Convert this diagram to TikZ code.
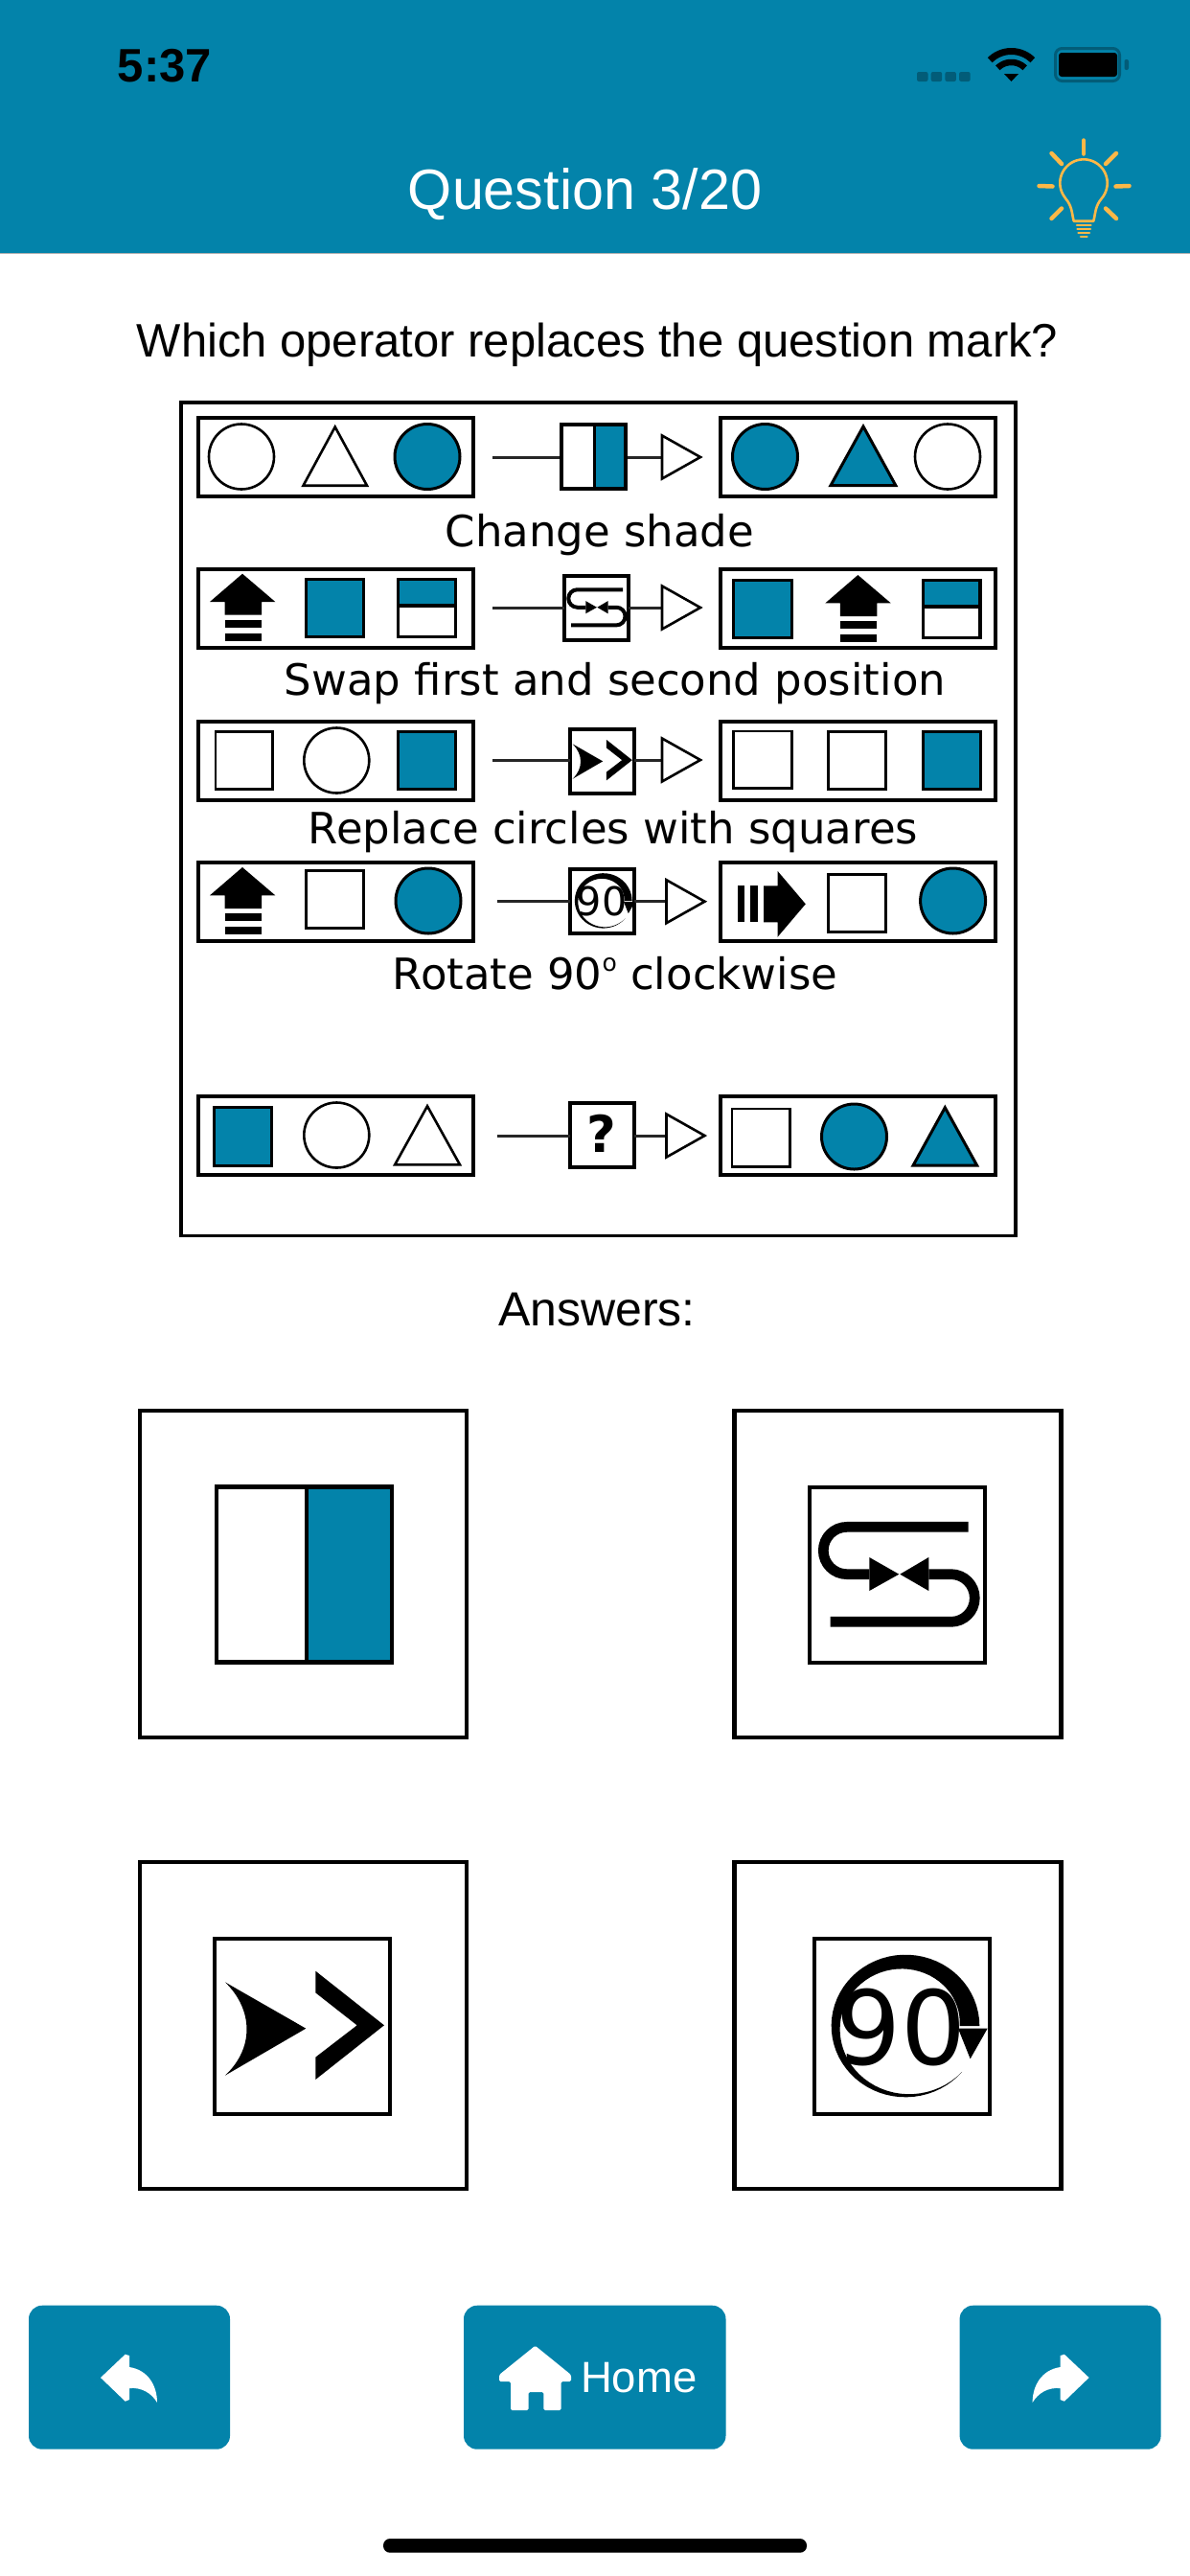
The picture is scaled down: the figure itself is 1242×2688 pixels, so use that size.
\documentclass[tikz,border=0pt]{standalone}
\usepackage{fontspec}
\setmainfont{Liberation Sans}
\newfontfamily\dv{DejaVu Sans}
\usetikzlibrary{calc}
\definecolor{appteal}{RGB}{3,131,170}
\definecolor{darkteal}{RGB}{2,92,120}
\definecolor{bulbcol}{RGB}{253,184,71}
\tikzset{
  shp/.style={draw=black,line width=2.6pt,fill=white,line join=miter},
  shf/.style={draw=black,line width=3pt,fill=appteal,line join=miter},
  rowbox/.style={draw=black,line width=4pt,fill=white},
  opbox/.style={draw=black,line width=4pt,fill=white,inner sep=0pt,outer sep=0pt,minimum width=67pt,minimum height=67pt},
  ansframe/.style={draw=black,line width=4.3pt,fill=white,inner sep=0pt,outer sep=0pt,minimum width=341pt,minimum height=341pt},
  ansbox/.style={draw=black,line width=4.3pt,fill=white,inner sep=0pt,outer sep=0pt,minimum width=183pt,minimum height=183pt},
  conn/.style={draw=black!85,line width=3pt},
  tip/.style={draw=black,line width=2.6pt,fill=white,line join=miter},
  lab/.style={font=\dv\fontsize{45}{50}\selectfont,anchor=base,inner sep=0pt,text=black},
  txt/.style={anchor=base,inner sep=0pt},
  btn/.style={fill=appteal,rounded corners=14pt},
  ray/.style={draw=bulbcol,line width=4.5pt,line cap=round},
  bar/.style={draw=bulbcol,line width=2.6pt,line cap=round},
}
\newcommand\cS[2]{\draw[shp] (#1,#2) circle[radius=34pt];}
\newcommand\cF[2]{\draw[shf] (#1,#2) circle[radius=34pt];}
\newcommand\sS[4]{\draw[shp] ($(#1,#2)+(1.3,1.3)$) rectangle ($(#3,#4)-(1.3,1.3)$);}
\newcommand\sF[4]{\draw[shf] ($(#1,#2)+(1.5,1.5)$) rectangle ($(#3,#4)-(1.5,1.5)$);}
\newcommand\triS[5]{\draw[shp] ($(#1,#4)+(2.5,-1.3)$) -- ($(#3,#4)+(-2.5,-1.3)$) -- ($(#5,#2)+(0,2.5)$) -- cycle;}
\newcommand\triF[5]{\draw[shf] ($(#1,#4)+(3,-1.5)$) -- ($(#3,#4)+(-3,-1.5)$) -- ($(#5,#2)+(0,3)$) -- cycle;}
\newcommand\halfS[5]{%
  \fill[white] (#1,#2) rectangle (#3,#4);
  \fill[appteal] (#1,#2) rectangle (#3,#5);
  \draw[black,line width=3.4pt] ($(#1,#2)+(1.7,1.7)$) rectangle ($(#3,#4)-(1.7,1.7)$);
  \draw[black,line width=3.4pt] (#1,#5) -- (#3,#5);}
\newcommand\upArr[2]{\begin{scope}[shift={(#1,#2)}]
  \fill[black] (34,0) -- (68.3,29.3) -- (54,29.3) -- (54,43) -- (15.5,43) -- (15.5,29.3) -- (0,29.3) -- cycle;
  \fill[black] (15.5,48.3) rectangle (54,56.3);
  \fill[black] (15.5,62) rectangle (54,70.3);
\end{scope}}
\newcommand\rightArr[2]{\begin{scope}[shift={(#1,#2)}]
  \fill[black] (70.8,0) -- (41.5,-34.5) -- (41.5,-19) -- (27,-19) -- (27,19) -- (41.5,19) -- (41.5,34.5) -- cycle;
  \fill[black] (0,-19) rectangle (7,19);
  \fill[black] (13,-19) rectangle (21.4,19);
\end{scope}}
\newcommand\swapGlyph[4]{\begin{scope}[shift={(#1,#2)},x=#3pt,y=-#3pt]
  \draw[black,line width=#4pt] (502,130) -- (122,130) .. controls (81,130) and (48,163) .. (48,204) .. controls (48,245) and (81,278) .. (122,278) -- (192,278);
  \draw[black,line width=#4pt] (378,278) -- (448,278) .. controls (489,278) and (522,311.5) .. (522,352.5) .. controls (522,393.5) and (489,427) .. (448,427) -- (70,427);
  \fill[black] (192,225) -- (285,278) -- (192,330) -- cycle;
  \fill[black] (378,225) -- (288,278) -- (378,330) -- cycle;
\end{scope}}
\newcommand\chevGlyph[3]{\begin{scope}[shift={(#1,#2)},x=#3pt,y=-#3pt]
  \fill[black] (291,287) -- (38,142) .. controls (128,230) and (128,350) .. (38,434) -- cycle;
  \fill[black] (321,107) -- (536,277) -- (321,447) -- (321,377) -- (451,277) -- (321,175) -- cycle;
\end{scope}}
\newcommand\nineGlyph[5]{\begin{scope}[shift={(#1,#2)},x=#3pt,y=-#3pt]
  \fill[black] plot[domain=0:320,samples=60] ({291+232*cos(\x)},{279-223*sin(\x)}) -- plot[domain=320:0,samples=60] ({291+(232-62*(1-\x/320))*cos(\x)},{279-(223-62*(1-\x/320))*sin(\x)}) -- cycle;
  \fill[black] (456,287) -- (548,287) -- (494,382) -- cycle;
  \node[inner sep=0pt,scale=#4] (#5) at (278,284) {\dv\fontsize{107}{110}\selectfont 90};
\end{scope}}
\newcommand\replyIcon{%
  \fill[white] (105,2481) -- (130.7,2456.7) -- (135,2458) -- (135,2470) .. controls (155,2473) and (164,2490) .. (164,2507) .. controls (158,2497) and (148,2491) .. (135,2492) -- (135,2504) -- (130.7,2505.7) -- cycle;}
\newcommand\wifiArc[2]{\draw[black,line width=#2pt] plot[domain=45:135,samples=20] ({1055.5+#1*cos(\x)},{85-#1*sin(\x)});}
\begin{document}
\begin{tikzpicture}[x=1pt,y=-1pt]
\useasboundingbox (0,0) rectangle (1242,2688);
\fill[white] (0,0) rectangle (1242,2688);
% header
\fill[appteal] (0,0) rectangle (1242,264);
\fill[black!30] (0,263.5) rectangle (1242,265);
\node[txt,text=black,font=\bfseries\fontsize{49}{50}\selectfont] (clock) at (172,85) {5:37};
\node[txt,text=white,font=\fontsize{59.3}{62}\selectfont] (title) at (610.5,218) {Question 3/20};
% status icons
\foreach \i in {0,1,2,3}{\fill[darkteal,rounded corners=2pt] (957+\i*14.7,75) rectangle ++(11.5,10);}
\wifiArc{31.5}{7}
\wifiArc{20}{6.5}
\fill[black] (1055.5,85) -- (1048,77) -- (1063,77) -- cycle;
\draw[darkteal,line width=3pt,rounded corners=7pt] (1101.5,50.5) rectangle (1168.5,84.5);
\fill[black,rounded corners=3pt] (1105,55) rectangle (1166,80);
\fill[darkteal,rounded corners=2pt] (1173.5,62) rectangle (1178,73);
% bulb
\draw[bulbcol,line width=2.6pt,line join=round] (1120.7,230.7) .. controls (1118.5,222) and (1119,215) .. (1112,207) -- plot[domain=220:-40,samples=40] ({1131+24.7*cos(\x)},{191-24.7*sin(\x)}) .. controls (1143,215) and (1143.5,222) .. (1141.3,230.7) -- cycle;
\draw[ray] (1131,146.5) -- (1131,160.5);
\draw[ray] (1097.5,160) -- (1108,171);
\draw[ray] (1165,160) -- (1154,171);
\draw[ray] (1084.5,194) -- (1098.5,194.5);
\draw[ray] (1164.5,194.5) -- (1178.5,194);
\draw[ray] (1097.5,228) -- (1108,217.5);
\draw[ray] (1165,228) -- (1154,217.5);
\draw[bar] (1124,235) -- (1138.5,235);
\draw[bar] (1124.5,239) -- (1138,239);
\draw[bar] (1125.5,242.8) -- (1137,242.8);
\draw[bar] (1128,246.8) -- (1134.5,246.8);
% question
\node[txt,font=\fontsize{49}{52}\selectfont] (question) at (623.5,372.7) {Which operator replaces the question mark?};
% puzzle frame
\draw[black,line width=3.8pt] (189,420) rectangle (1060,1289.5);
% row boxes
\foreach \t in {436,594,752.5,899.5,1144}{
  \draw[rowbox] (206.7,\t) rectangle (493.9,\t+82);
  \draw[rowbox] (752,\t) rectangle (1038.5,\t+82);
}
% row 1
\cS{252}{476.5}\triS{314}{443}{385.5}{508}{349.7}\cF{446}{476.5}
\cF{798.5}{476.5}\triF{864}{442}{937.8}{508}{901}\cS{989}{476.5}
% row 2
\upArr{219}{598.7}\sF{318}{603}{381}{666}\halfS{414}{603}{477}{666}{632}
\sF{764}{604}{827.5}{667}\upArr{861.4}{600}\halfS{962}{604}{1024.5}{667}{633}
% row 3
\sS{223.6}{762}{286}{825}\cS{351.3}{793.5}\sF{414}{762}{477}{825}
\sS{764}{761.7}{827.5}{824}\sS{863}{762}{926}{825}\sF{962}{762}{1024.5}{825}
% row 4
\upArr{219}{905}\sS{318}{907}{381}{970}\cF{447}{940}
\rightArr{770}{943.3}\sS{863}{911}{926}{974}\cF{994.6}{940}
% row 5
\sF{222}{1154}{285}{1217.7}\cS{351.3}{1184.5}\triS{409.6}{1151.7}{482.5}{1216.7}{446}
\sS{762.7}{1155.7}{825.8}{1219}\cF{891.5}{1186}\triF{950}{1152.7}{1022.7}{1217.7}{986.3}
% connectors and operators
\coordinate (s1) at (514,477);   \coordinate (t1) at (691,477);
\coordinate (s2) at (514,634);   \coordinate (t2) at (691,634);
\coordinate (s3) at (514,793);   \coordinate (t3) at (691,793);
\coordinate (s4) at (518.7,940.7); \coordinate (t4) at (695.5,940.7);
\coordinate (s5) at (518.7,1185);  \coordinate (t5) at (695.5,1185);
\node[opbox] (op1) at (619,476.5) {};
\node[opbox] (op2) at (622.8,634.5) {};
\node[opbox] (op3) at (628.3,794) {};
\node[opbox] (op4) at (628.3,940) {};
\node[opbox] (op5) at (628.3,1184.5) {};
\foreach \n in {1,...,5}{
  \draw[conn] (s\n) -- (s\n -| op\n.west);
  \draw[conn] (t\n -| op\n.east) -- (t\n);
  \draw[tip] (t\n) ++(0,-22.5) -- ++(40,22.5) -- ++(-40,22.5) -- cycle;
}
\fill[appteal] (620.3,443) rectangle (652.5,510);
\draw[black,line width=4pt] (op1.north west) rectangle (op1.south east);
\draw[black,line width=3.5pt] (620.3,443) -- (620.3,510);
\swapGlyph{587.3}{599}{0.125}{4}
\chevGlyph{592.8}{758.5}{0.125}
\nineGlyph{592.3}{904}{0.1286}{0.386}{nineS}
\node[inner sep=0pt,font=\dv\bfseries\fontsize{53}{55}\selectfont] (qm) at (627.8,1183) {?};
% labels
\node[lab] (l1) at (626,570) {Change shade};
\node[lab] (l2) at (642,725.7) {Swap first and second position};
\node[lab] (l3) at (640,880) {Replace circles with squares};
\node[lab] (l4) at (642,1032) {Rotate 90\raisebox{19pt}{\fontsize{25}{25}\selectfont o} clockwise};
% answers
\node[txt,font=\fontsize{50}{52}\selectfont] (answers) at (623,1383.3) {Answers:};
\node[ansframe] (fa) at (316.5,1642.5) {};
\node[ansframe] (fb) at (937,1642.5) {};
\node[ansframe] (fc) at (316.5,2113.5) {};
\node[ansframe] (fd) at (937,2113.5) {};
\node[ansbox] (ba) at (317.2,1643) {};
\node[ansbox] (bb) at (936.7,1643.3) {};
\node[ansbox] (bc) at (315.5,2114.3) {};
\node[ansbox] (bd) at (941.3,2114.3) {};
\fill[appteal] (319.7,1553) rectangle (407,1733);
\draw[black,line width=4.3pt] (ba.north west) rectangle (ba.south east);
\draw[black,line width=4.3pt] (319.7,1551.5) -- (319.7,1734.5);
\swapGlyph{843.3}{1550}{0.3333}{10.7}
\chevGlyph{222.3}{2021}{0.3333}
\nineGlyph{848}{2021}{0.3333}{1}{nineL}
% buttons
\fill[btn] (30,2405.7) rectangle (240,2555.7);
\fill[btn] (484,2405.7) rectangle (757.5,2555.7);
\fill[btn] (1001.6,2405.7) rectangle (1211.6,2555.7);
\replyIcon
\begin{scope}[shift={(1241.6,0)},xscale=-1]\replyIcon\end{scope}
\fill[white,rounded corners=1.5pt] (558.6,2447.7) -- (596,2478) -- (596,2485) -- (585.6,2485) -- (585.6,2515) -- (567.3,2515) -- (567.3,2496) -- (551.5,2496) -- (551.5,2515) -- (533,2515) -- (533,2485) -- (521,2485) -- (521,2478) -- cycle;
\node[txt,text=white,font=\fontsize{45.5}{46}\selectfont] (home) at (666.8,2496.7) {Home};
% home indicator
\fill[black,rounded corners=7pt] (400,2649) rectangle (842,2663.7);
\end{tikzpicture}
\end{document}
